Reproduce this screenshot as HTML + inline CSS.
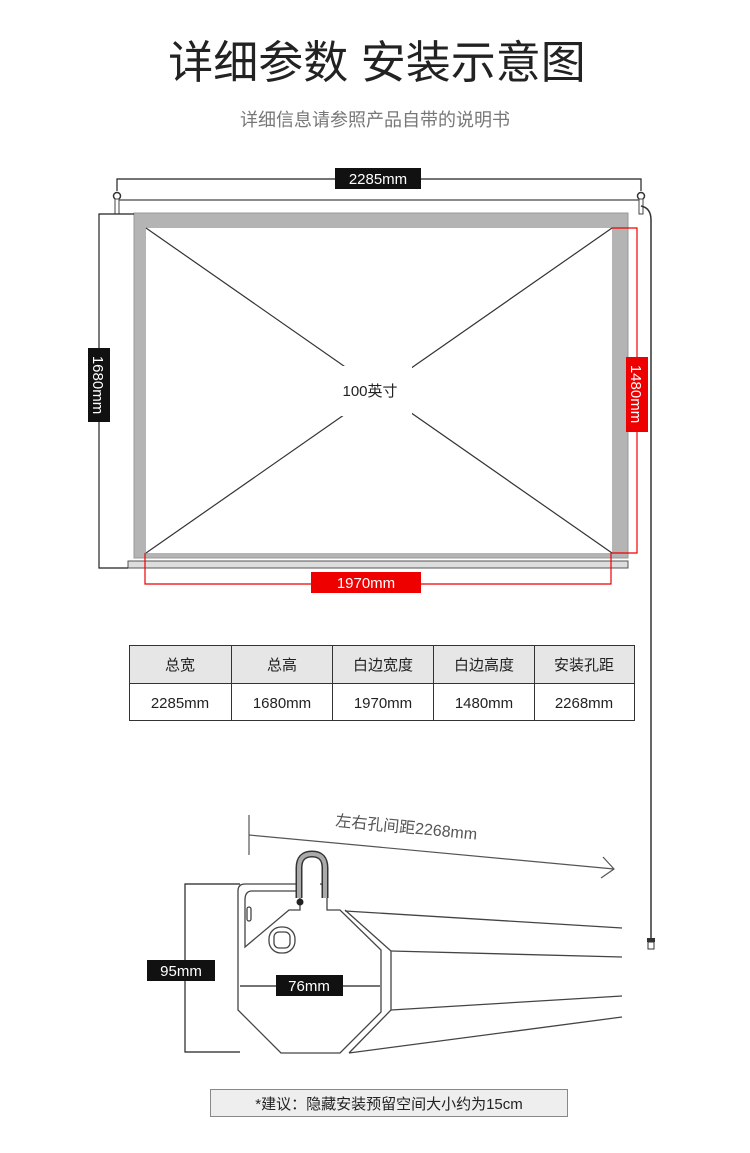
<!DOCTYPE html>
<html><head><meta charset="utf-8"><style>
html,body{margin:0;padding:0;background:#fff;}
body{width:750px;height:1153px;position:relative;overflow:hidden;font-family:"Liberation Sans","Noto Sans CJK SC",sans-serif;}
svg{position:absolute;left:0;top:0;}
text{font-family:"Liberation Sans","Noto Sans CJK SC",sans-serif;}
</style></head><body>
<svg width="750" height="1153" viewBox="0 0 750 1153">
<text x="377" y="78" font-size="45" text-anchor="middle" fill="#222">详细参数 安装示意图</text>
<text x="375" y="126" font-size="18" text-anchor="middle" fill="#777">详细信息请参照产品自带的说明书</text>
<!-- top dimension -->
<polyline points="117,191 117,179 641,179 641,191" fill="none" stroke="#222" stroke-width="1.2"/>
<rect x="335" y="168" width="86" height="21" fill="#111"/>
<text x="378" y="184" font-size="15" fill="#fff" text-anchor="middle">2285mm</text>
<line x1="117" y1="200" x2="641" y2="200" stroke="#444" stroke-width="1.2"/>
<circle cx="117" cy="196" r="3.5" fill="#fff" stroke="#333" stroke-width="1.5"/>
<circle cx="641" cy="196" r="3.5" fill="#fff" stroke="#333" stroke-width="1.5"/>
<rect x="115" y="199" width="4" height="15" fill="#fff" stroke="#444"/>
<rect x="639" y="199" width="4" height="15" fill="#fff" stroke="#444"/>
<!-- cord -->
<path d="M641,206 Q651,208 651,220 L651,938" fill="none" stroke="#333" stroke-width="1.5"/>
<rect x="647" y="938" width="8" height="4" fill="#333"/>
<rect x="648" y="942" width="6" height="7" fill="#fff" stroke="#333"/>
<!-- screen -->
<rect x="134" y="213" width="494" height="345" fill="#b4b4b4" stroke="#999"/>
<rect x="146" y="228" width="466" height="325" fill="#fff"/>
<line x1="146" y1="228" x2="612" y2="553" stroke="#333" stroke-width="1.2"/>
<line x1="612" y1="228" x2="146" y2="553" stroke="#333" stroke-width="1.2"/>
<rect x="340" y="366" width="72" height="50" fill="#fff"/>
<text x="370" y="396" font-size="15" fill="#222" text-anchor="middle">100英寸</text>
<rect x="128" y="561" width="500" height="7" fill="#ddd" stroke="#555"/>
<!-- left bracket -->
<polyline points="134,214 99,214 99,568 128,568" fill="none" stroke="#222" stroke-width="1.2"/>
<rect x="88" y="348" width="22" height="74" fill="#111"/>
<text transform="translate(93,385) rotate(90)" font-size="15" fill="#fff" text-anchor="middle">1680mm</text>
<!-- red right -->
<polyline points="612,228 637,228 637,553 612,553" fill="none" stroke="#e00" stroke-width="1.2"/>
<rect x="626" y="357" width="22" height="75" fill="#e00"/>
<text transform="translate(631,394) rotate(90)" font-size="15" fill="#fff" text-anchor="middle">1480mm</text>
<!-- red bottom -->
<polyline points="145,553 145,584 611,584 611,553" fill="none" stroke="#e00" stroke-width="1.2"/>
<rect x="311" y="572" width="110" height="21" fill="#e00"/>
<text x="366" y="588" font-size="15" fill="#fff" text-anchor="middle">1970mm</text>
<!-- table -->
<rect x="129.5" y="645.5" width="505" height="38" fill="#e6e6e6"/>
<rect x="129.5" y="645.5" width="505" height="75" fill="none" stroke="#333"/>
<line x1="129" y1="683.5" x2="634" y2="683.5" stroke="#333"/>
<g stroke="#333"><line x1="231.5" y1="645" x2="231.5" y2="720"/><line x1="332.5" y1="645" x2="332.5" y2="720"/><line x1="433.5" y1="645" x2="433.5" y2="720"/><line x1="534.5" y1="645" x2="534.5" y2="720"/></g>
<g font-size="15" fill="#222" text-anchor="middle">
<text x="180" y="670">总宽</text><text x="282" y="670">总高</text><text x="383" y="670">白边宽度</text><text x="484" y="670">白边高度</text><text x="584" y="670">安装孔距</text>
<text x="180" y="708">2285mm</text><text x="282" y="708">1680mm</text><text x="383" y="708">1970mm</text><text x="484" y="708">1480mm</text><text x="584" y="708">2268mm</text>
</g>
<!-- bottom section -->
<text transform="translate(335,826) rotate(5.5)" font-size="16" fill="#555">左右孔间距2268mm</text>
<line x1="249" y1="815" x2="249" y2="855" stroke="#555" stroke-width="1.2"/>
<line x1="249" y1="835" x2="614" y2="869" stroke="#555" stroke-width="1.2"/>
<polyline points="603,857 614,869 601,878" fill="none" stroke="#555" stroke-width="1.2"/>
<g fill="none" stroke="#444" stroke-width="1.3">
<path d="M300,884 L245,884 Q238,884 238,891 L238,1010 L281,1053 L340,1053 L381,1012 L381,950 L340,910 L327,910 L327,893 Q327,884 320,884"/>
<path d="M300,884 L300,910 L289,910 L245,947 L245,900 Q245,891 252,891 L300,891"/>
<path d="M345,910 L391,951 L391,1010 L349,1053"/>
<line x1="345" y1="911" x2="622" y2="928"/>
<line x1="391" y1="951" x2="622" y2="957"/>
<line x1="391" y1="1010" x2="622" y2="996"/>
<line x1="349" y1="1053" x2="622" y2="1017"/>
<rect x="269" y="927" width="26" height="26" rx="12"/>
<rect x="274" y="932" width="16" height="16" rx="5"/>
<rect x="247" y="907" width="4" height="14" rx="2"/>
</g>
<path d="M299,898 L299,868 Q299,854 312,854 Q325,854 325,868 L325,898" fill="none" stroke="#333" stroke-width="7"/>
<path d="M299,898 L299,868 Q299,854 312,854 Q325,854 325,868 L325,898" fill="none" stroke="#aaa" stroke-width="4"/>
<circle cx="300" cy="902" r="3.5" fill="#222"/>
<polyline points="240,884 185,884 185,1052 240,1052" fill="none" stroke="#222" stroke-width="1.2"/>
<rect x="147" y="960" width="68" height="21" fill="#111"/>
<text x="181" y="976" font-size="15" fill="#fff" text-anchor="middle">95mm</text>
<line x1="240" y1="986" x2="380" y2="986" stroke="#222" stroke-width="1.2"/>
<rect x="276" y="975" width="67" height="21" fill="#111"/>
<text x="309" y="991" font-size="15" fill="#fff" text-anchor="middle">76mm</text>
<rect x="210.5" y="1089.5" width="357" height="27" fill="#eee" stroke="#888"/>
<text x="389" y="1109" font-size="15" fill="#222" text-anchor="middle">*建议：隐藏安装预留空间大小约为15cm</text>
</svg>
</body></html>
